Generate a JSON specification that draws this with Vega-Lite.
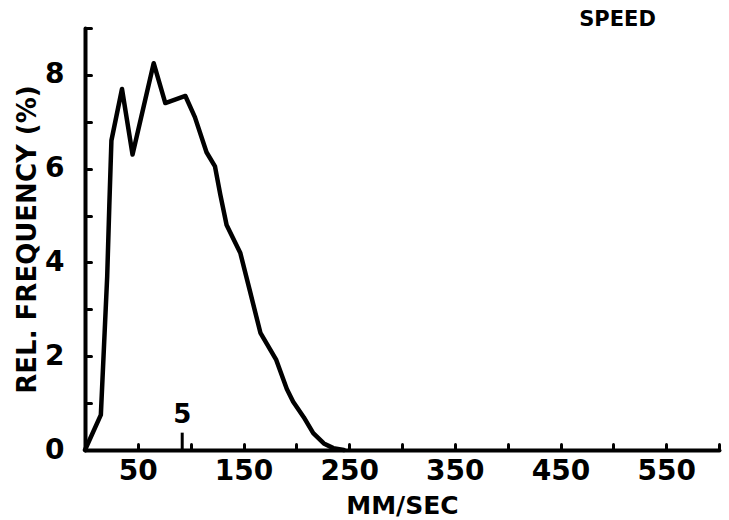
{
  "$schema": "https://vega.github.io/schema/vega-lite/v6.json",
  "width": 634,
  "height": 422,
  "autosize": "none",
  "padding": {"left": 85, "top": 28, "right": 10, "bottom": 70},
  "background": "white",
  "config": {
    "view": {"stroke": null},
    "font": "DejaVu Sans",
    "axis": {"grid": false, "domainColor": "black", "tickColor": "black", "labelColor": "black", "titleColor": "black", "labelFont": "DejaVu Sans", "titleFont": "DejaVu Sans", "labelFontWeight": "bold", "titleFontWeight": "bold", "domainWidth": 4, "tickWidth": 3, "tickSize": -6, "domainCap": "round", "tickCap": "round"}
  },
  "datasets": {
    "curve": [
      {"speed": 0, "freq": 0},
      {"speed": 15, "freq": 0.75},
      {"speed": 21, "freq": 3.7},
      {"speed": 23, "freq": 5.2},
      {"speed": 25, "freq": 6.6},
      {"speed": 35, "freq": 7.7},
      {"speed": 45, "freq": 6.3},
      {"speed": 65, "freq": 8.25},
      {"speed": 76, "freq": 7.4},
      {"speed": 95, "freq": 7.55},
      {"speed": 104, "freq": 7.1},
      {"speed": 115, "freq": 6.35},
      {"speed": 123, "freq": 6.05},
      {"speed": 128, "freq": 5.45},
      {"speed": 134, "freq": 4.8},
      {"speed": 147, "freq": 4.2},
      {"speed": 156, "freq": 3.4},
      {"speed": 166, "freq": 2.5},
      {"speed": 181, "freq": 1.92},
      {"speed": 191, "freq": 1.3},
      {"speed": 197, "freq": 1.03},
      {"speed": 207, "freq": 0.7},
      {"speed": 216, "freq": 0.36},
      {"speed": 226, "freq": 0.14},
      {"speed": 235, "freq": 0.04},
      {"speed": 245, "freq": 0}
    ],
    "marker": [{"speed": 92, "lo": 0, "hi": 0.37, "labelY": 0.74, "label": "5"}],
    "tag": [{"speed": 504, "freq": 9.17, "label": "SPEED"}]
  },
  "layer": [
    {
      "data": {"name": "curve"},
      "mark": {"type": "line", "color": "black", "strokeWidth": 4.5, "strokeJoin": "round", "strokeCap": "round"},
      "encoding": {
        "x": {"field": "speed", "type": "quantitative", "scale": {"domain": [0, 600], "nice": false},
          "axis": {"title": "MM/SEC", "titleFontSize": 25, "titlePadding": 8, "labelFontSize": 28, "values": [50, 100, 150, 200, 250, 300, 350, 400, 450, 500, 550, 600], "labelExpr": "datum.value % 100 === 50 ? datum.label : ''", "labelPadding": 13, "labelOverlap": false}},
        "y": {"field": "freq", "type": "quantitative", "scale": {"domain": [0, 9], "nice": false},
          "axis": {"title": "REL. FREQUENCY (%)", "titleFontSize": 26, "titlePadding": 4, "labelFontSize": 28, "values": [0, 1, 2, 3, 4, 5, 6, 7, 8, 9], "labelExpr": "datum.value % 2 === 0 ? datum.label : ''", "labelPadding": 27, "labelOverlap": false}}
      }
    },
    {
      "data": {"name": "marker"},
      "mark": {"type": "rule", "color": "black", "strokeWidth": 3},
      "encoding": {
        "x": {"field": "speed", "type": "quantitative"},
        "y": {"field": "lo", "type": "quantitative"},
        "y2": {"field": "hi"}
      }
    },
    {
      "data": {"name": "marker"},
      "mark": {"type": "text", "color": "black", "fontSize": 26, "fontWeight": "bold", "baseline": "middle", "align": "center"},
      "encoding": {
        "x": {"field": "speed", "type": "quantitative"},
        "y": {"field": "labelY", "type": "quantitative"},
        "text": {"field": "label"}
      }
    },
    {
      "data": {"name": "tag"},
      "mark": {"type": "text", "color": "black", "fontSize": 21, "fontWeight": "bold", "baseline": "middle", "align": "center", "clip": false},
      "encoding": {
        "x": {"field": "speed", "type": "quantitative"},
        "y": {"field": "freq", "type": "quantitative"},
        "text": {"field": "label"}
      }
    }
  ]
}
